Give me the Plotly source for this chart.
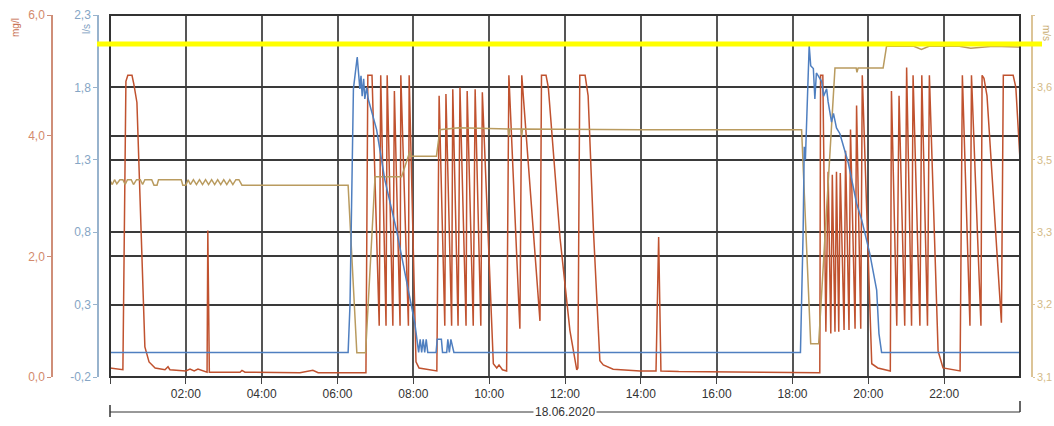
import plotly.graph_objects as go
import pandas as pd

DAY = "2020-06-18"
DATE_LABEL = "18.06.2020"

# time tick labels (hours of the day)
tick_hours = [0, 2, 4, 6, 8, 10, 12, 14, 16, 18, 20, 22]
tick_labels = ["", "02:00", "04:00", "06:00", "08:00", "10:00", "12:00",
               "14:00", "16:00", "18:00", "20:00", "22:00"]

# left outer axis: mg/l (red)
mgl_ticks = [0, 2, 4, 6]
mgl_labels = ["0,0", "2,0", "4,0", "6,0"]
# left inner axis: l/s (blue)
ls_ticks = [-0.2, 0.3, 0.8, 1.3, 1.8, 2.3]
ls_labels = ["-0,2", "0,3", "0,8", "1,3", "1,8", "2,3"]
# right axis: m/s (tan)
ms_ticks = [3.1, 3.22, 3.34, 3.46, 3.58, 3.7]
ms_labels = ["3,1", "3,2", "3,3", "3,5", "3,6", ""]

limit_ls = 2.1  # yellow reference line (l/s)

red_hours = [0.00, 0.21, 0.34, 0.42, 0.47, 0.58, 0.63, 0.71, 0.82, 0.92, 1.03, 1.19, 1.45, 1.53, 1.58,
             1.85, 2.00, 2.11, 2.22, 2.32, 2.48, 2.56, 2.58, 2.62, 3.43, 3.48, 3.56, 5.01, 5.35, 5.49,
             6.75, 6.80, 6.91, 7.10, 7.14, 7.28, 7.31, 7.46, 7.50, 7.65, 7.67, 7.87, 7.89,
             8.07, 8.15, 8.40, 8.62, 8.68, 8.83, 8.86, 9.01, 9.04, 9.18, 9.23, 9.39, 9.42, 9.58, 9.63,
             9.78, 9.82, 10.11, 10.20, 10.26, 10.35, 10.46, 10.52, 10.81, 10.86, 11.34, 11.38, 11.50,
             11.56, 11.87, 12.13, 12.31, 12.34, 12.39, 12.53, 12.61, 12.75, 12.92, 13.01, 13.27, 13.98,
             14.40, 14.47, 14.53, 15.00, 16.00, 17.20, 18.72, 18.74, 18.80, 18.88, 18.94, 19.01, 19.05,
             19.12, 19.16, 19.22, 19.26, 19.36, 19.40, 19.49, 19.53, 19.65, 19.69, 19.80, 19.84,
             20.09, 20.25, 20.44, 20.58, 20.61, 20.75, 20.81, 20.96, 21.01, 21.14, 21.18, 21.36, 21.41,
             21.56, 21.61, 21.84, 21.97, 22.42, 22.48, 22.68, 22.72, 22.97, 23.00, 23.05, 23.13, 23.51,
             23.56, 23.82, 23.89, 24.00]
red_mgl = [0.15, 0.13, 0.12, 4.9, 5.0, 5.0, 4.85, 4.55, 2.5, 0.5, 0.25, 0.15, 0.12, 0.17, 0.12,
           0.11, 0.10, 0.13, 0.10, 0.13, 0.10, 0.08, 2.43, 0.08, 0.08, 0.11, 0.08, 0.07, 0.11, 0.07,
           0.07, 5.0, 5.0, 0.85, 5.0, 0.85, 5.0, 0.85, 4.74, 0.85, 5.0, 0.85, 5.0,
           0.25, 0.15, 0.12, 0.10, 4.66, 0.85, 4.69, 0.85, 4.77, 0.85, 4.80, 0.85, 4.74, 0.85, 4.77,
           0.85, 4.72, 0.22, 0.15, 0.20, 0.12, 0.10, 5.0, 0.80, 5.0, 0.93, 5.0, 5.0,
           4.8, 2.3, 0.77, 0.12, 0.15, 5.0, 5.0, 4.66, 2.43, 0.27, 0.20, 0.13, 0.10,
           0.10, 2.32, 0.10, 0.09, 0.08, 0.08, 0.07, 5.0, 5.0, 0.75, 3.4, 0.72, 3.35,
           0.75, 3.4, 0.75, 3.38, 0.78, 3.75, 0.78, 4.1, 0.8, 4.5, 0.8, 5.0,
           0.22, 0.15, 0.12, 0.10, 4.74, 0.85, 4.66, 0.85, 5.13, 0.85, 5.0, 0.85, 5.0,
           0.85, 5.0, 0.43, 0.15, 0.10, 5.0, 0.85, 5.0, 0.85, 5.0, 4.95, 4.66, 0.9,
           5.0, 5.0, 4.8, 3.6]

blue_hours = [0.00, 6.28, 6.33, 6.42, 6.52, 6.59, 6.62, 6.65, 6.69, 6.72, 6.77, 6.81, 7.03, 7.25, 7.56,
              7.82, 8.04, 8.10, 8.14, 8.18, 8.22, 8.26, 8.30, 8.34, 8.38, 8.60, 8.63, 8.74, 8.77, 8.88,
              8.91, 8.95, 8.99, 9.07, 18.21, 18.28, 18.31, 18.34, 18.38, 18.44, 18.48, 18.55, 18.59,
              18.63, 18.68, 18.77, 18.82, 18.90, 18.94, 19.03, 19.08, 19.16, 19.25, 19.34, 19.47,
              19.69, 19.83, 20.04, 20.22, 20.28, 20.35, 24.00]
blue_ls = [-0.03, -0.03, 0.3, 1.79, 2.01, 1.79, 1.88, 1.74, 1.86, 1.72, 1.80, 1.72, 1.51, 1.16, 0.81,
           0.47, 0.17, 0.05, -0.03, 0.06, -0.03, 0.06, -0.03, 0.06, -0.03, -0.03, 0.06, 0.06, -0.03, -0.03,
           0.06, -0.03, 0.06, -0.03, -0.03, 0.8, 1.39, 1.3, 1.6, 2.09, 1.95, 1.93, 1.72,
           1.9, 1.88, 1.84, 1.74, 1.79, 1.70, 1.56, 1.62, 1.52, 1.48, 1.40, 1.28,
           1.0, 0.88, 0.65, 0.40, 0.10, -0.03, -0.03]

tan_hours = [0.00, 0.06, 0.12, 0.18, 0.26, 0.34, 0.40, 0.46, 0.56, 0.62, 0.70, 0.80, 0.86, 0.92, 1.10,
             1.16, 1.24, 1.28, 1.88, 1.92, 2.00, 2.06, 2.12, 2.20, 2.28, 2.36, 2.44, 2.52, 2.60, 2.68,
             2.76, 2.84, 2.92, 3.00, 3.08, 3.16, 3.24, 3.32, 3.40, 3.48, 6.28, 6.51, 6.74, 6.99, 7.69,
             7.91, 7.93, 8.61, 8.70, 9.20, 10.50, 10.52, 10.54, 10.84, 10.86, 10.88, 14.00, 18.24,
             18.48, 18.69, 19.12, 19.68, 19.70, 19.73, 20.39, 20.48, 21.20, 21.40, 21.60, 22.40,
             22.70, 23.30, 24.00]
tan_ms = [3.426, 3.419, 3.427, 3.420, 3.427, 3.427, 3.419, 3.427, 3.427, 3.419, 3.427, 3.427, 3.419, 3.427, 3.427,
          3.418, 3.418, 3.427, 3.427, 3.418, 3.418, 3.427, 3.419, 3.427, 3.419, 3.427, 3.419, 3.427, 3.419, 3.427,
          3.419, 3.427, 3.419, 3.427, 3.419, 3.427, 3.419, 3.427, 3.427, 3.418, 3.418, 3.140, 3.140, 3.432, 3.432,
          3.474, 3.466, 3.466, 3.510, 3.513, 3.511, 3.500, 3.511, 3.511, 3.500, 3.511, 3.510, 3.510,
          3.155, 3.155, 3.612, 3.612, 3.605, 3.612, 3.612, 3.648, 3.648, 3.643, 3.648, 3.648,
          3.645, 3.648, 3.647]

RED = "#c0522f"
BLUE = "#4f7fc0"
TAN = "#b99b5f"

base = pd.Timestamp(DAY)
def to_time(hours):
    return base + pd.to_timedelta(hours, unit="h")

fig = go.Figure()
fig.add_trace(go.Scatter(x=to_time(red_hours), y=red_mgl, mode="lines", yaxis="y",
                         line=dict(color=RED, width=1.5), name="mg/l"))
fig.add_trace(go.Scatter(x=to_time(tan_hours), y=tan_ms, mode="lines", yaxis="y2",
                         line=dict(color=TAN, width=1.5), name="m/s"))
fig.add_trace(go.Scatter(x=to_time(blue_hours), y=blue_ls, mode="lines", yaxis="y3",
                         line=dict(color=BLUE, width=1.5), name="l/s"))

W, H = 1054, 426
x0p, x1p = 110 / W, 1020 / W
ydom = [1 - 377 / H, 1 - 15 / H]
FONT = "Liberation Sans, Arial, sans-serif"
GRID = "#3a3a3a"

fig.update_layout(
    template="none",
    width=W, height=H, autosize=False,
    margin=dict(l=0, r=0, t=0, b=0, pad=0),
    paper_bgcolor="white", plot_bgcolor="white",
    showlegend=False,
    font=dict(family=FONT, size=12, color="#333"),
    xaxis=dict(
        type="date", domain=[x0p, x1p], anchor="y", automargin=False,
        range=[to_time(0), to_time(24)],
        tickvals=to_time(tick_hours), ticktext=tick_labels,
        showgrid=True, gridcolor="#555", gridwidth=1.5,
        ticks="outside", ticklen=6, tickcolor="#444", tickwidth=1,
        tickfont=dict(family=FONT, size=12, color="#333"),
        showline=False, zeroline=False,
    ),
    yaxis=dict(
        domain=ydom, anchor="free", position=52 / W, side="left", automargin=False,
        range=[0, 6], tickvals=mgl_ticks, ticktext=mgl_labels,
        showgrid=True, gridcolor=GRID, gridwidth=1.5, zeroline=False,
        showline=True, linecolor="#cf8e78", linewidth=1.5,
        ticks="outside", ticklen=4, tickcolor="#cf8e78",
        tickfont=dict(family=FONT, size=12, color="#d38a6c"),
    ),
    yaxis2=dict(
        overlaying="y", anchor="free", position=1032 / W, side="right", automargin=False,
        range=[3.1, 3.7], tickvals=ms_ticks, ticktext=ms_labels,
        showgrid=False, zeroline=False,
        showline=True, linecolor="#dcc497", linewidth=1.5,
        ticks="outside", ticklen=2, tickcolor="#dcc497",
        tickfont=dict(family=FONT, size=11, color="#d4bb88"),
    ),
    yaxis3=dict(
        overlaying="y", anchor="free", position=98 / W, side="left", automargin=False,
        range=[-0.2, 2.3], tickvals=ls_ticks, ticktext=ls_labels,
        showgrid=True, gridcolor=GRID, gridwidth=1.5, zeroline=False,
        showline=True, linecolor="#98b3cd", linewidth=1.5,
        ticks="outside", ticklen=4, tickcolor="#98b3cd",
        tickfont=dict(family=FONT, size=12, color="#85a5c5"),
    ),
)

shapes = [
    # plot frame
    dict(type="rect", xref="x domain", yref="y domain", x0=0, x1=1, y0=0, y1=1,
         line=dict(color="#333", width=2), layer="above"),
    # yellow reference line
    dict(type="line", xref="paper", yref="y3", x0=97 / W, x1=1042 / W, y0=limit_ls, y1=limit_ls,
         line=dict(color="#ffff00", width=5), layer="above"),
    # date bracket
    dict(type="line", xref="x domain", yref="paper", x0=0, x1=1, y0=1 - 412 / H, y1=1 - 412 / H,
         line=dict(color="#333", width=1)),
    dict(type="line", xref="x domain", yref="paper", x0=0, x1=0, y0=1 - 417 / H, y1=1 - 405 / H,
         line=dict(color="#333", width=1.5)),
    dict(type="line", xref="x domain", yref="paper", x0=1, x1=1, y0=1 - 412 / H, y1=1 - 401 / H,
         line=dict(color="#333", width=1.5)),
]
fig.update_layout(shapes=shapes)

annotations = [
    dict(text=DATE_LABEL, xref="x domain", yref="paper", x=0.5, y=1 - 412 / H,
         xanchor="center", yanchor="middle",
         showarrow=False, bgcolor="white", borderpad=1,
         font=dict(family=FONT, size=12, color="#333")),
    dict(text="mg/l", xref="paper", yref="paper", x=15 / W, y=1 - 28 / H, textangle=-90,
         xanchor="center", yanchor="middle",
         showarrow=False, font=dict(family=FONT, size=10, color="#c8704f")),
    dict(text="l/s", xref="paper", yref="paper", x=87 / W, y=1 - 29 / H, textangle=-90,
         xanchor="center", yanchor="middle",
         showarrow=False, font=dict(family=FONT, size=10, color="#7f9fc2")),
    dict(text="m/s", xref="paper", yref="paper", x=1047 / W, y=1 - 33 / H, textangle=90,
         xanchor="center", yanchor="middle",
         showarrow=False, font=dict(family=FONT, size=10, color="#c9ad72")),
]
fig.update_layout(annotations=annotations)

fig.write_html("out.html", config={"displayModeBar": False},
               post_script="document.body.style.margin='0';document.body.style.overflow='hidden';")
